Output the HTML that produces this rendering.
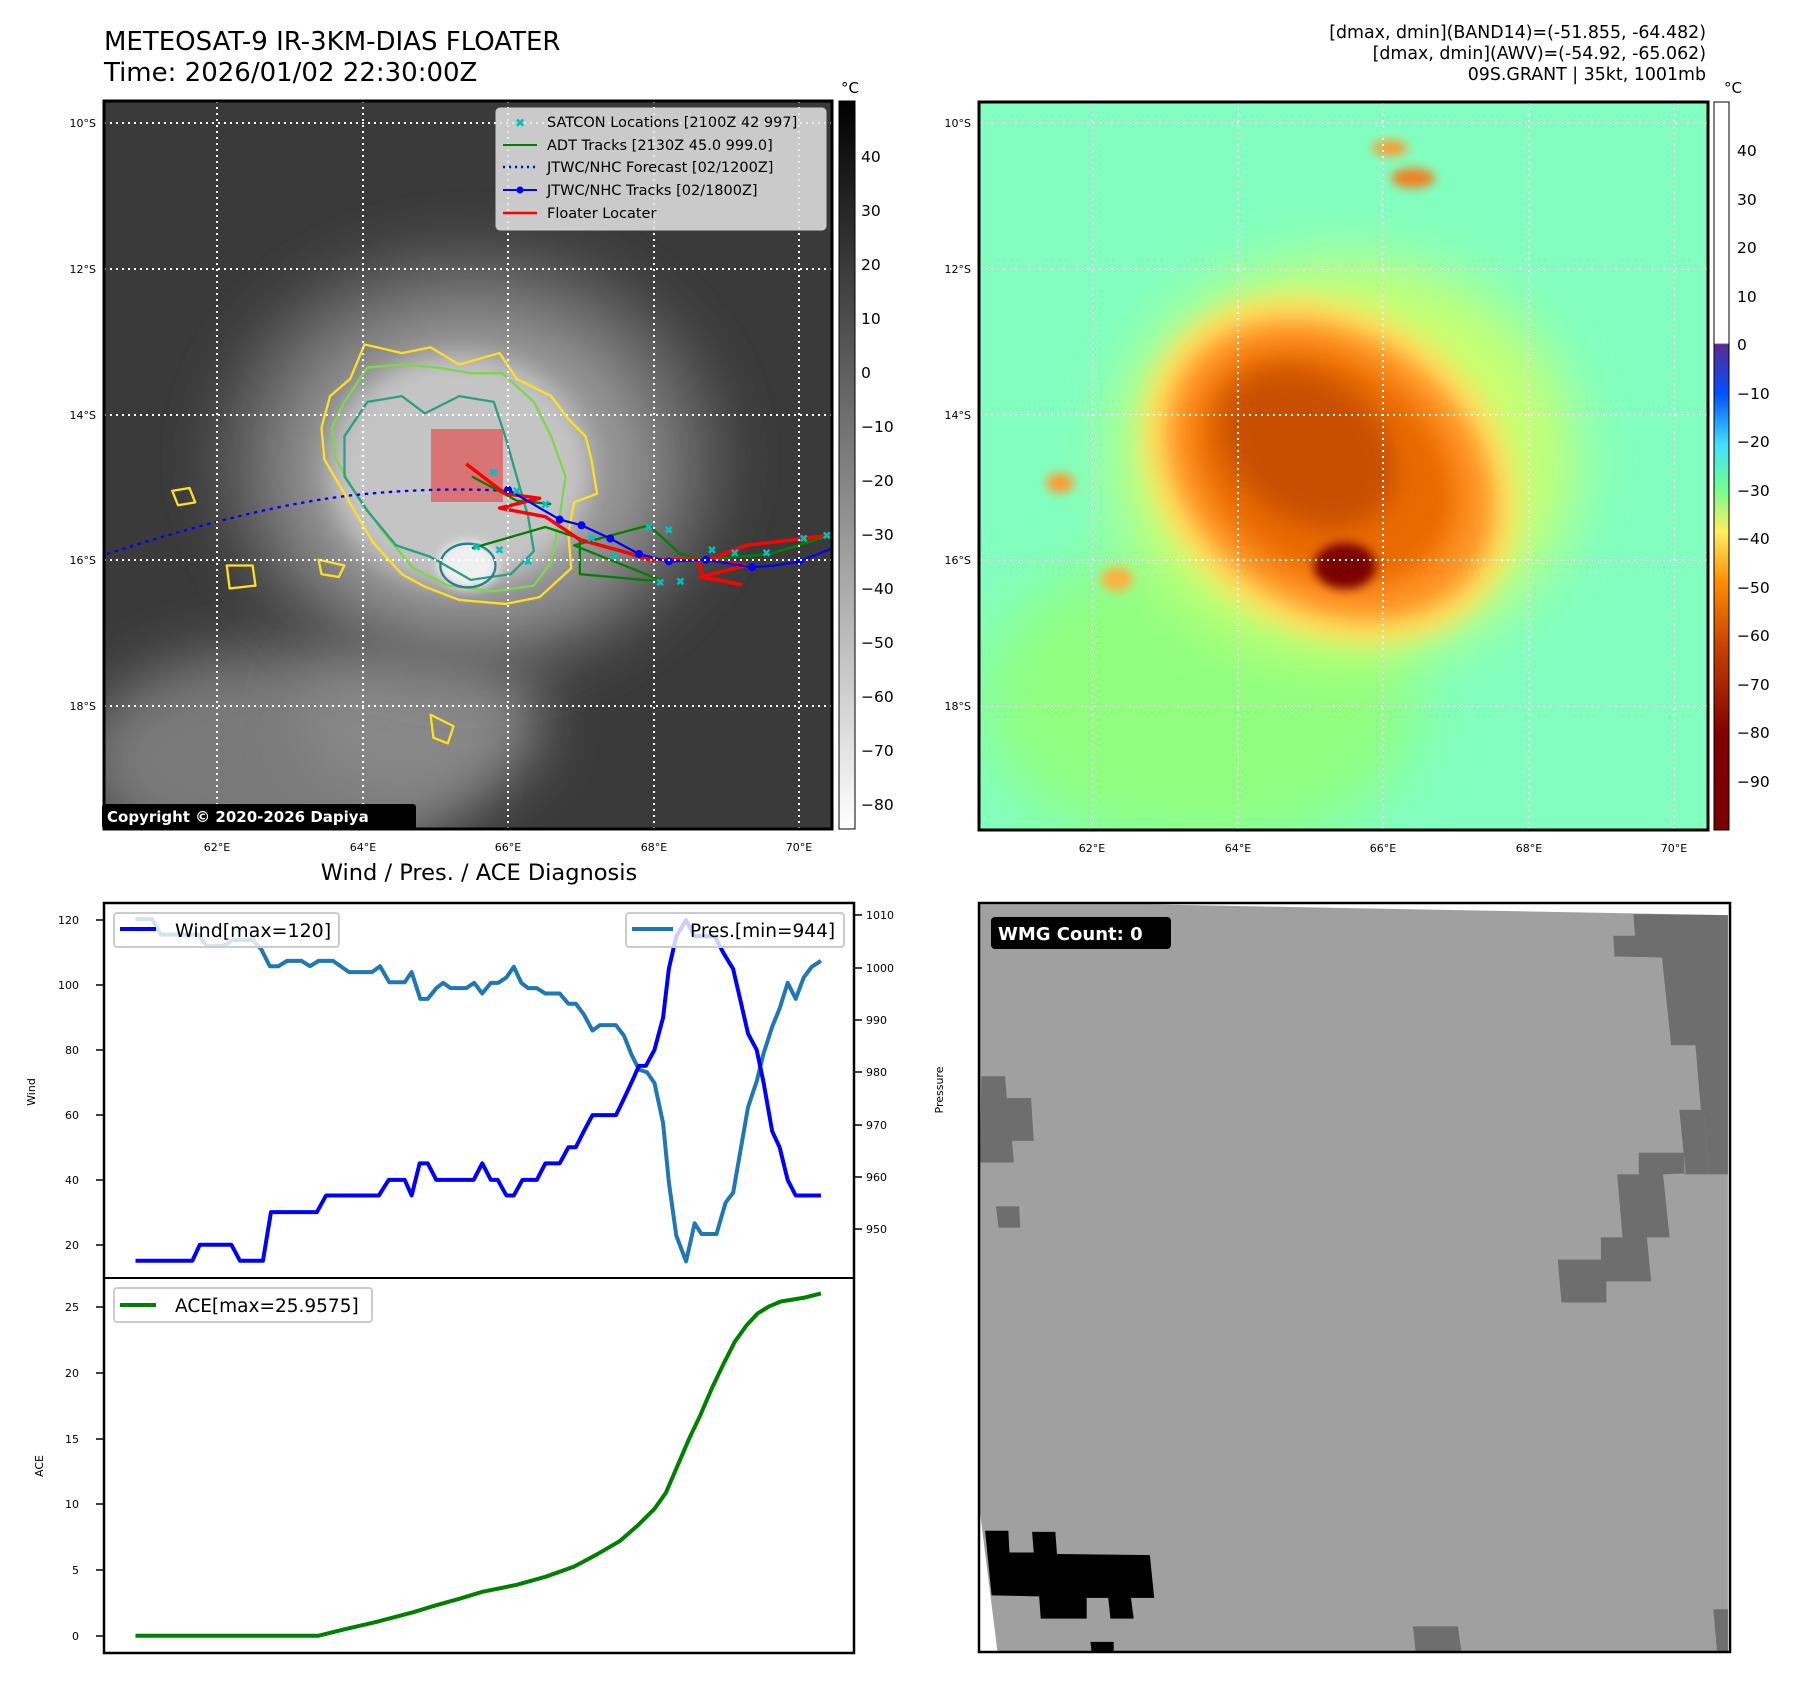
<!DOCTYPE html>
<html><head><meta charset="utf-8"><style>
html,body{margin:0;padding:0;background:#fff}
svg text{font-family:"DejaVu Sans","Liberation Sans",sans-serif}
</style></head><body>
<svg width="1797" height="1690" viewBox="0 0 1797 1690" xmlns="http://www.w3.org/2000/svg">
<defs>
<filter id="b1" x="-50%" y="-50%" width="200%" height="200%"><feGaussianBlur stdDeviation="30"/></filter>
<filter id="b2" x="-50%" y="-50%" width="200%" height="200%"><feGaussianBlur stdDeviation="12"/></filter>
<filter id="b3" x="-50%" y="-50%" width="200%" height="200%"><feGaussianBlur stdDeviation="5"/></filter>
<linearGradient id="cbL" x1="0" y1="0" x2="0" y2="1"><stop offset="0" stop-color="#000"/><stop offset="1" stop-color="#fff"/></linearGradient>
<linearGradient id="cbR" x1="0" y1="0" x2="0" y2="1">
<stop offset="0" stop-color="#fff"/><stop offset="0.331" stop-color="#fff"/><stop offset="0.333" stop-color="#5a2a90"/>
<stop offset="0.40" stop-color="#0050ff"/><stop offset="0.47" stop-color="#40e0ff"/><stop offset="0.53" stop-color="#70ff90"/>
<stop offset="0.59" stop-color="#ffef60"/><stop offset="0.66" stop-color="#ff8c00"/><stop offset="0.75" stop-color="#c84000"/>
<stop offset="0.87" stop-color="#800000"/><stop offset="1" stop-color="#7a0000"/></linearGradient>
<clipPath id="cL"><rect x="104" y="101" width="728" height="728"/></clipPath>
<clipPath id="cR"><rect x="979" y="102" width="729" height="728"/></clipPath>
</defs>

<!-- Titles -->
<text x="104" y="50" font-size="26">METEOSAT-9 IR-3KM-DIAS FLOATER</text>
<text x="104" y="81" font-size="26">Time: 2026/01/02 22:30:00Z</text>
<g font-size="17.4" text-anchor="end">
<text x="1706" y="38">[dmax, dmin](BAND14)=(-51.855, -64.482)</text>
<text x="1706" y="59">[dmax, dmin](AWV)=(-54.92, -65.062)</text>
<text x="1706" y="80">09S.GRANT | 35kt, 1001mb</text>
</g>

<!-- LEFT MAP -->
<g clip-path="url(#cL)">
<rect x="104" y="101" width="728" height="728" fill="#3a3a3a"/>
<ellipse cx="280" cy="760" rx="200" ry="110" fill="#7a7a7a" filter="url(#b1)"/>
<ellipse cx="420" cy="720" rx="120" ry="80" fill="#888" filter="url(#b1)"/>
<ellipse cx="470" cy="460" rx="250" ry="210" fill="#666" filter="url(#b1)"/>
<ellipse cx="470" cy="470" rx="185" ry="160" fill="#999" filter="url(#b1)"/>
<ellipse cx="460" cy="470" rx="130" ry="115" fill="#c4c4c4" filter="url(#b2)"/>
<ellipse cx="468" cy="565" rx="30" ry="24" fill="#f0f0f0" filter="url(#b3)"/>
<rect x="431" y="429" width="72" height="73" fill="#e06060" opacity="0.8"/>
<g transform="scale(0.5741)" fill="none" stroke-width="4" stroke-linejoin="round">
<path d="M560,745 L575,690 L610,660 L635,600 L700,615 L750,605 L800,635 L870,615 L900,660 L960,690 L990,730 L1020,760 L1030,800 L1040,860 L1000,875 L990,930 L995,990 L940,1040 L880,1052 L800,1045 L740,1022 L700,1000 L650,945 L600,860 L565,800 Z" stroke="#ffe020"/>
<path d="M578,745 L600,700 L640,640 L700,635 L760,640 L820,650 L875,650 L930,700 L960,760 L985,830 L975,900 L960,980 L930,1020 L860,1030 L780,1020 L720,990 L670,930 L620,860 L585,800 Z" stroke="#7cd848"/>
<path d="M600,760 L640,700 L700,690 L740,720 L800,690 L860,700 L880,760 L900,830 L920,900 L930,960 L890,1000 L820,1010 L750,970 L690,950 L640,890 L600,830 Z" stroke="#2aa080"/>
<ellipse cx="815" cy="985" rx="48" ry="38" stroke="#2a8090"/>
<path d="M300,855 L330,850 L340,875 L310,880 Z M395,985 L440,985 L445,1020 L400,1025 Z M555,975 L600,985 L590,1005 L560,1000 Z M750,1245 L790,1265 L780,1295 L755,1285 Z" stroke="#ffe020"/>
<path d="M186,965 Q450,880 620,862 Q760,848 880,855" stroke="#0000ff" stroke-dasharray="6,8"/>
<path d="M822,830 L900,872 L960,878 M822,955 L950,918 L1010,938 L1010,1000 L1140,1012 M1150,1010 L1000,950 L1130,915 L1185,965 L1225,975 L1340,965 L1440,935" stroke="#008000"/>
<path d="M812,808 L880,860 L940,868 L870,885 L950,900 L1010,940 L1090,962 L1130,975 L1215,975 L1225,1005 L1290,1018 L1220,1005 L1300,985 L1235,975 L1300,950 L1450,932" stroke="#ff0000" stroke-width="6"/>
<path d="M880,850 L975,905 L1013,915 L1063,938 L1113,965 L1165,978 L1230,975 L1310,988 L1350,985 L1392,978 L1450,955" stroke="#0000ff"/>
<g fill="#0000ff" stroke="none"><circle cx="885" cy="853" r="7"/><circle cx="975" cy="905" r="7"/><circle cx="1013" cy="915" r="7"/><circle cx="1063" cy="938" r="7"/><circle cx="1113" cy="965" r="7"/><circle cx="1165" cy="978" r="7"/><circle cx="1230" cy="975" r="7"/><circle cx="1310" cy="988" r="7"/><circle cx="1392" cy="978" r="7"/></g>
<g fill="#00c0c0" font-size="20" text-anchor="middle" stroke="none">
<text x="830" y="960">✖</text><text x="870" y="965">✖</text><text x="920" y="985">✖</text><text x="1030" y="945">✖</text><text x="1070" y="975">✖</text><text x="1130" y="925">✖</text><text x="1165" y="930">✖</text><text x="1185" y="1020">✖</text><text x="1150" y="1022">✖</text><text x="1240" y="965">✖</text><text x="1280" y="970">✖</text><text x="1335" y="970">✖</text><text x="1400" y="945">✖</text><text x="1440" y="940">✖</text><text x="860" y="830">✖</text><text x="900" y="862">✖</text><text x="950" y="886">✖</text>
</g>
</g>
<g stroke="#fff" stroke-width="2" stroke-dasharray="2,4">
<line x1="104" y1="123" x2="832" y2="123"/><line x1="104" y1="269" x2="832" y2="269"/><line x1="104" y1="415" x2="832" y2="415"/><line x1="104" y1="560" x2="832" y2="560"/><line x1="104" y1="706" x2="832" y2="706"/>
<line x1="217" y1="101" x2="217" y2="829"/><line x1="363" y1="101" x2="363" y2="829"/><line x1="508" y1="101" x2="508" y2="829"/><line x1="654" y1="101" x2="654" y2="829"/><line x1="799" y1="101" x2="799" y2="829"/>
</g>
</g>
<rect x="102" y="804" width="314" height="25" rx="3" fill="#000"/>
<text x="107" y="822" font-size="15" font-weight="bold" fill="#fff">Copyright © 2020-2026 Dapiya</text>
<rect x="496" y="108" width="330" height="122" rx="4" fill="#e4e4e4" fill-opacity="0.85" stroke="#ccc"/>
<g font-size="14.5" fill="#000">
<text x="520" y="127" fill="#00c0c0" text-anchor="middle" font-size="12">✖</text><text x="547" y="127">SATCON Locations [2100Z 42 997]</text>
<line x1="503" y1="145" x2="537" y2="145" stroke="#008000" stroke-width="2"/><text x="547" y="150">ADT Tracks [2130Z 45.0 999.0]</text>
<line x1="503" y1="167" x2="537" y2="167" stroke="#0000ff" stroke-width="2.5" stroke-dasharray="2,4"/><text x="547" y="172">JTWC/NHC Forecast [02/1200Z]</text>
<line x1="503" y1="190" x2="537" y2="190" stroke="#0000ff" stroke-width="2"/><circle cx="520" cy="190" r="3.5" fill="#0000ff"/><text x="547" y="195">JTWC/NHC Tracks [02/1800Z]</text>
<line x1="503" y1="213" x2="537" y2="213" stroke="#ff0000" stroke-width="2.5"/><text x="547" y="218">Floater Locater</text>
</g>
<rect x="104" y="101" width="728" height="728" fill="none" stroke="#000" stroke-width="3"/>
<g font-size="11" text-anchor="end">
<text x="96" y="127">10°S</text><text x="96" y="273">12°S</text><text x="96" y="419">14°S</text><text x="96" y="564">16°S</text><text x="96" y="710">18°S</text>
</g>
<g font-size="11" text-anchor="middle">
<text x="217" y="851">62°E</text><text x="363" y="851">64°E</text><text x="508" y="851">66°E</text><text x="654" y="851">68°E</text><text x="799" y="851">70°E</text>
</g>
<rect x="839" y="101" width="16" height="728" fill="url(#cbL)" stroke="#000" stroke-width="1"/>
<text x="850" y="93" font-size="15" text-anchor="middle">°C</text>
<g font-size="15.5">
<text x="861" y="162">40</text><text x="861" y="216">30</text><text x="861" y="270">20</text><text x="861" y="324">10</text><text x="861" y="378">0</text>
<text x="861" y="432">−10</text><text x="861" y="486">−20</text><text x="861" y="540">−30</text><text x="861" y="594">−40</text><text x="861" y="648">−50</text><text x="861" y="702">−60</text><text x="861" y="756">−70</text><text x="861" y="810">−80</text>
</g>

<!-- RIGHT MAP -->
<g clip-path="url(#cR)">
<rect x="979" y="102" width="729" height="728" fill="#82ffc0"/>
<ellipse cx="1200" cy="700" rx="220" ry="150" fill="#90ff80" filter="url(#b1)"/>
<ellipse cx="1345" cy="460" rx="230" ry="200" fill="#c8ff70" filter="url(#b1)"/>
<g transform="rotate(35 1330 470)">
<ellipse cx="1330" cy="470" rx="200" ry="160" fill="#ffe060" filter="url(#b2)"/>
<ellipse cx="1330" cy="470" rx="175" ry="135" fill="#ff9020" filter="url(#b2)"/>
<ellipse cx="1325" cy="470" rx="140" ry="105" fill="#e86a00" filter="url(#b2)"/>
<ellipse cx="1300" cy="465" rx="95" ry="70" fill="#c85000" filter="url(#b2)"/>
</g>
<ellipse cx="1345" cy="566" rx="31" ry="23" fill="#7a0000" filter="url(#b3)"/>
<ellipse cx="1413" cy="178" rx="22" ry="10" fill="#f08020" filter="url(#b3)"/>
<ellipse cx="1390" cy="148" rx="18" ry="8" fill="#ff9a30" filter="url(#b3)"/>
<ellipse cx="1060" cy="483" rx="14" ry="10" fill="#ff9a30" filter="url(#b3)"/>
<ellipse cx="1117" cy="579" rx="16" ry="12" fill="#ffb040" filter="url(#b3)"/>
<g stroke="#fff" stroke-width="2" stroke-dasharray="2,4">
<line x1="979" y1="123" x2="1708" y2="123"/><line x1="979" y1="269" x2="1708" y2="269"/><line x1="979" y1="415" x2="1708" y2="415"/><line x1="979" y1="560" x2="1708" y2="560"/><line x1="979" y1="706" x2="1708" y2="706"/>
<line x1="1092" y1="102" x2="1092" y2="830"/><line x1="1238" y1="102" x2="1238" y2="830"/><line x1="1383" y1="102" x2="1383" y2="830"/><line x1="1529" y1="102" x2="1529" y2="830"/><line x1="1674" y1="102" x2="1674" y2="830"/>
</g>
</g>
<rect x="979" y="102" width="729" height="728" fill="none" stroke="#000" stroke-width="3"/>
<g font-size="11" text-anchor="end">
<text x="971" y="127">10°S</text><text x="971" y="273">12°S</text><text x="971" y="419">14°S</text><text x="971" y="564">16°S</text><text x="971" y="710">18°S</text>
</g>
<g font-size="11" text-anchor="middle">
<text x="1092" y="852">62°E</text><text x="1238" y="852">64°E</text><text x="1383" y="852">66°E</text><text x="1529" y="852">68°E</text><text x="1674" y="852">70°E</text>
</g>
<rect x="1714" y="102" width="15" height="728" fill="url(#cbR)" stroke="#000" stroke-width="1"/>
<text x="1733" y="93" font-size="15" text-anchor="middle">°C</text>
<g font-size="15.5">
<text x="1737" y="156">40</text><text x="1737" y="205">30</text><text x="1737" y="253">20</text><text x="1737" y="302">10</text><text x="1737" y="350">0</text>
<text x="1737" y="399">−10</text><text x="1737" y="447">−20</text><text x="1737" y="496">−30</text><text x="1737" y="544">−40</text><text x="1737" y="593">−50</text><text x="1737" y="641">−60</text><text x="1737" y="690">−70</text><text x="1737" y="738">−80</text><text x="1737" y="787">−90</text>
</g>

<!-- BOTTOM LEFT -->
<text x="479" y="880" font-size="22.5" text-anchor="middle">Wind / Pres. / ACE Diagnosis</text>
<g transform="translate(0,850) scale(0.5741,0.5356)" fill="none" stroke-width="4" stroke-linejoin="round">
<polyline vector-effect="non-scaling-stroke" stroke="#1f77b4" points="236,129 265,129 280,158 345,158 360,179 390,179 405,168 440,168 455,185 470,217 485,217 500,207 525,207 540,217 555,207 580,207 608,228 648,228 662,217 678,247 705,247 717,228 732,278 745,278 760,258 772,248 785,258 812,258 826,248 840,268 855,248 868,248 882,238 895,218 908,248 920,258 935,258 950,268 975,268 990,287 1003,287 1017,307 1032,337 1045,327 1073,327 1087,347 1100,382 1113,410 1127,415 1140,435 1155,510 1165,620 1178,720 1195,768 1210,697 1222,717 1248,717 1264,658 1277,640 1290,560 1303,480 1318,432 1330,380 1345,330 1358,296 1372,248 1386,278 1400,238 1414,218 1430,207"/>
<polyline vector-effect="non-scaling-stroke" stroke="#0000ff" points="236,767 335,767 348,737 403,737 418,767 458,767 472,676 552,676 568,645 660,645 677,616 705,616 717,645 731,585 745,585 760,616 825,616 840,585 855,616 867,616 882,645 895,645 910,616 935,616 950,585 975,585 990,555 1003,555 1017,525 1032,495 1073,495 1087,464 1100,434 1113,403 1125,403 1140,373 1155,313 1165,222 1178,161 1195,131 1210,161 1245,161 1260,192 1277,222 1290,282 1303,343 1318,373 1330,434 1345,525 1358,555 1372,616 1386,645 1430,645"/>
<polyline vector-effect="non-scaling-stroke" stroke="#008000" points="236,1467 555,1467 600,1455 660,1440 720,1423 760,1410 800,1398 840,1385 900,1372 950,1357 1000,1338 1040,1315 1080,1290 1110,1262 1140,1230 1160,1200 1180,1150 1200,1100 1220,1055 1240,1005 1260,960 1280,918 1300,888 1320,865 1340,852 1360,843 1400,836 1430,828"/>
</g>
<line x1="104" y1="1278" x2="854" y2="1278" stroke="#000" stroke-width="2"/>
<rect x="104" y="903" width="750" height="750" fill="none" stroke="#000" stroke-width="2.5"/>
<rect x="114" y="913" width="225" height="34" rx="3" fill="#fff" fill-opacity="0.8" stroke="#ccc" stroke-width="2"/>
<line x1="120" y1="929" x2="156" y2="929" stroke="#0000ff" stroke-width="4"/><text x="175" y="937" font-size="19">Wind[max=120]</text>
<rect x="626" y="913" width="218" height="34" rx="3" fill="#fff" fill-opacity="0.8" stroke="#ccc" stroke-width="2"/>
<line x1="632" y1="929" x2="673" y2="929" stroke="#1f77b4" stroke-width="4"/><text x="690" y="937" font-size="18.5">Pres.[min=944]</text>
<rect x="114" y="1288" width="258" height="34" rx="3" fill="#fff" fill-opacity="0.8" stroke="#ccc" stroke-width="2"/>
<line x1="120" y1="1305" x2="156" y2="1305" stroke="#008000" stroke-width="4"/><text x="175" y="1312" font-size="18.5">ACE[max=25.9575]</text>
<g stroke="#000" stroke-width="1.5">
<line x1="96" y1="920" x2="104" y2="920"/><line x1="96" y1="985" x2="104" y2="985"/><line x1="96" y1="1050" x2="104" y2="1050"/><line x1="96" y1="1115" x2="104" y2="1115"/><line x1="96" y1="1180" x2="104" y2="1180"/><line x1="96" y1="1245" x2="104" y2="1245"/>
<line x1="854" y1="915" x2="862" y2="915"/><line x1="854" y1="968" x2="862" y2="968"/><line x1="854" y1="1020" x2="862" y2="1020"/><line x1="854" y1="1072" x2="862" y2="1072"/><line x1="854" y1="1125" x2="862" y2="1125"/><line x1="854" y1="1177" x2="862" y2="1177"/><line x1="854" y1="1229" x2="862" y2="1229"/>
<line x1="96" y1="1307" x2="104" y2="1307"/><line x1="96" y1="1373" x2="104" y2="1373"/><line x1="96" y1="1439" x2="104" y2="1439"/><line x1="96" y1="1504" x2="104" y2="1504"/><line x1="96" y1="1570" x2="104" y2="1570"/><line x1="96" y1="1636" x2="104" y2="1636"/>
</g>
<g font-size="11" text-anchor="end">
<text x="79" y="924">120</text><text x="79" y="989">100</text><text x="79" y="1054">80</text><text x="79" y="1119">60</text><text x="79" y="1184">40</text><text x="79" y="1249">20</text>
<text x="79" y="1311">25</text><text x="79" y="1377">20</text><text x="79" y="1443">15</text><text x="79" y="1508">10</text><text x="79" y="1574">5</text><text x="79" y="1640">0</text>
</g>
<g font-size="11">
<text x="866" y="919">1010</text><text x="866" y="972">1000</text><text x="866" y="1024">990</text><text x="866" y="1076">980</text><text x="866" y="1129">970</text><text x="866" y="1181">960</text><text x="866" y="1233">950</text>
</g>
<text transform="translate(35,1092) rotate(-90)" font-size="11" text-anchor="middle">Wind</text>
<text transform="translate(43,1466) rotate(-90)" font-size="11" text-anchor="middle">ACE</text>
<text transform="translate(943,1090) rotate(-90)" font-size="11" text-anchor="middle">Pressure</text>

<!-- BOTTOM RIGHT -->
<rect x="979" y="903" width="751" height="749" fill="#fff"/>
<g transform="translate(950,880) scale(0.5402,0.5165)">
<path d="M55,47 L360,47 L1440,68 L1440,1495 L88,1495 L55,1220 Z" fill="#a0a0a0"/>
<g fill="#6e6e6e">
<path d="M1265,66 L1440,68 L1440,570 L1405,570 L1395,445 L1390,445 L1380,320 L1335,320 L1318,150 L1230,148 L1228,108 L1268,108 Z"/>
<path d="M1350,445 L1395,445 L1405,570 L1360,570 L1358,528 L1275,528 L1275,570 L1235,570 L1245,692 L1205,692 L1205,735 L1125,735 L1132,818 L1215,818 L1215,777 L1298,777 L1290,692 L1332,692 L1320,570 L1362,568 L1358,528 Z"/>
<path d="M58,380 L102,380 L105,422 L150,422 L155,505 L115,505 L118,547 L55,547 Z"/>
<path d="M85,632 L128,632 L130,673 L90,673 Z"/>
<path d="M857,1445 L940,1445 L947,1495 L862,1495 Z"/>
<path d="M1413,1412 L1440,1412 L1440,1495 L1420,1495 Z"/>
</g>
<path d="M65,1260 L108,1260 L110,1302 L155,1302 L152,1262 L195,1262 L198,1305 L370,1307 L378,1390 L335,1390 L340,1430 L297,1430 L293,1390 L253,1390 L253,1430 L168,1430 L165,1387 L77,1385 Z M260,1475 L303,1475 L303,1495 L262,1495 Z" fill="#000"/>
</g>
<rect x="991" y="917" width="180" height="32" rx="4" fill="#000"/>
<text x="998" y="940" font-size="18" font-weight="bold" fill="#fff">WMG Count: 0</text>
<rect x="979" y="903" width="751" height="749" fill="none" stroke="#000" stroke-width="2.5"/>
</svg>
</body></html>
